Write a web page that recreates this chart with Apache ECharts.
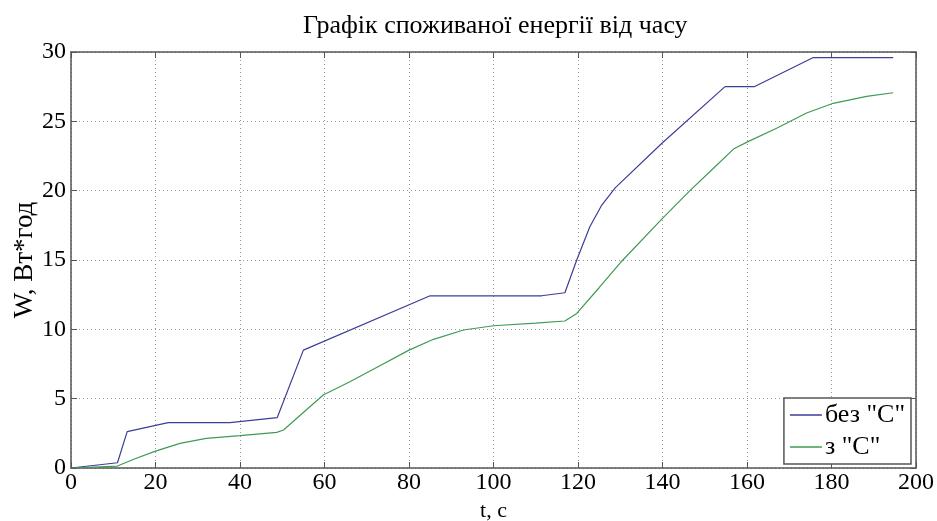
<!DOCTYPE html>
<html>
<head>
<meta charset="utf-8">
<script src="https://cdn.jsdelivr.net/npm/echarts@6/dist/echarts.min.js"></script>
<style>
    html, body { margin: 0; padding: 0; background: #fff; }
    #chart { width: 937px; height: 521px; }
</style>
</head>
<body>
<div id="chart"></div>
<script>
// час, с
var xTicks = [0, 20, 40, 60, 80, 100, 120, 140, 160, 180, 200];
var yTicks = [0, 5, 10, 15, 20, 25, 30];

// без "С"
var tBez = [0, 11, 13.3, 23, 37.6, 48.8, 55, 85, 111.4, 116.9, 119.7, 122.8, 125.5, 128.8, 139.8, 154.8, 161.7, 175.7, 194.6];
var wBez = [0, 0.38, 2.62, 3.27, 3.27, 3.63, 8.5, 12.42, 12.42, 12.64, 15.0, 17.4, 18.9, 20.2, 23.4, 27.5, 27.5, 29.6, 29.6];

// з "С"
var tZ = [0, 11, 15, 20, 25.8, 32, 40, 48.7, 50.3, 55, 59.7, 66, 72, 80, 85.8, 92.9, 100, 110, 116.9, 119.7, 125, 130, 140, 146.5, 152, 156.8, 160, 167, 174.1, 180.4, 188.3, 194.6];
var wZ = [0, 0.14, 0.65, 1.22, 1.78, 2.14, 2.33, 2.57, 2.74, 4.0, 5.26, 6.22, 7.2, 8.5, 9.28, 9.95, 10.26, 10.45, 10.6, 11.15, 13.0, 14.8, 18.0, 20.0, 21.6, 23.0, 23.5, 24.5, 25.6, 26.3, 26.8, 27.06];

var pairs = function (t, w) {
    var out = [];
    for (var i = 0; i < t.length; i++) {
        out.push([t[i], w[i]]);
    }
    return out;
};

var font = "'Liberation Serif', 'DejaVu Serif', serif";
var frameColor = '#555';

var baseAxis = function (pos, ticks, showLabel) {
    return {
        type: 'value',
        position: pos,
        min: ticks[0],
        max: ticks[ticks.length - 1],
        interval: ticks[1] - ticks[0],
        axisLine: { show: true, onZero: false, lineStyle: { color: frameColor, width: 1.5 } },
        axisTick: { show: true, inside: true, length: 6, lineStyle: { color: frameColor } },
        axisLabel: { show: showLabel, color: '#000', fontFamily: font, fontSize: 24, margin: 3 },
        splitLine: { show: false }
    };
};

var xBottom = baseAxis('bottom', xTicks, true);
xBottom.name = 't, c';
xBottom.nameLocation = 'middle';
xBottom.nameGap = 32;
xBottom.nameMoveOverlap = false;
xBottom.nameTextStyle = { color: '#000', fontFamily: font, fontSize: 22 };
xBottom.splitLine = { show: true, lineStyle: { color: '#999', type: [1, 3], width: 1 } };

var yLeft = baseAxis('left', yTicks, true);
yLeft.name = 'W, Вт*год';
yLeft.nameLocation = 'middle';
yLeft.nameGap = 33;
yLeft.nameMoveOverlap = false;
yLeft.nameTextStyle = { color: '#000', fontFamily: font, fontSize: 27 };
yLeft.axisLabel.margin = 5;
yLeft.splitLine = { show: true, lineStyle: { color: '#999', type: [1, 3], width: 1 } };

var option = {
    backgroundColor: '#fff',
    animation: false,
    title: {
        text: 'Графік споживаної енергії від часу',
        left: 298,
        top: 8,
        textStyle: { color: '#000', fontFamily: font, fontSize: 26, fontWeight: 'normal' }
    },
    grid: { left: 71, right: 21, top: 52, bottom: 53, outerBoundsMode: 'none', containLabel: false },
    legend: {
        orient: 'vertical',
        right: 26,
        bottom: 57,
        backgroundColor: '#fff',
        borderColor: frameColor,
        borderWidth: 1.5,
        borderRadius: 0,
        padding: [4, 6, 4, 6],
        itemGap: 6,
        itemWidth: 32,
        itemHeight: 1.5,
        icon: 'rect',
        textStyle: { color: '#000', fontFamily: font, fontSize: 26, padding: [0, 0, 0, -2] },
        data: ['без "С"', 'з "С"']
    },
    xAxis: [xBottom, baseAxis('top', xTicks, false)],
    yAxis: [yLeft, baseAxis('right', yTicks, false)],
    series: [
        {
            name: 'без "С"',
            type: 'line',
            symbol: 'none',
            color: '#3d3d9a',
            lineStyle: { width: 1.2 },
            data: pairs(tBez, wBez)
        },
        {
            name: 'з "С"',
            type: 'line',
            symbol: 'none',
            color: '#3f9a55',
            lineStyle: { width: 1.2 },
            data: pairs(tZ, wZ)
        }
    ]
};

var myChart = echarts.init(document.getElementById('chart'));
myChart.setOption(option);
</script>
</body>
</html>
